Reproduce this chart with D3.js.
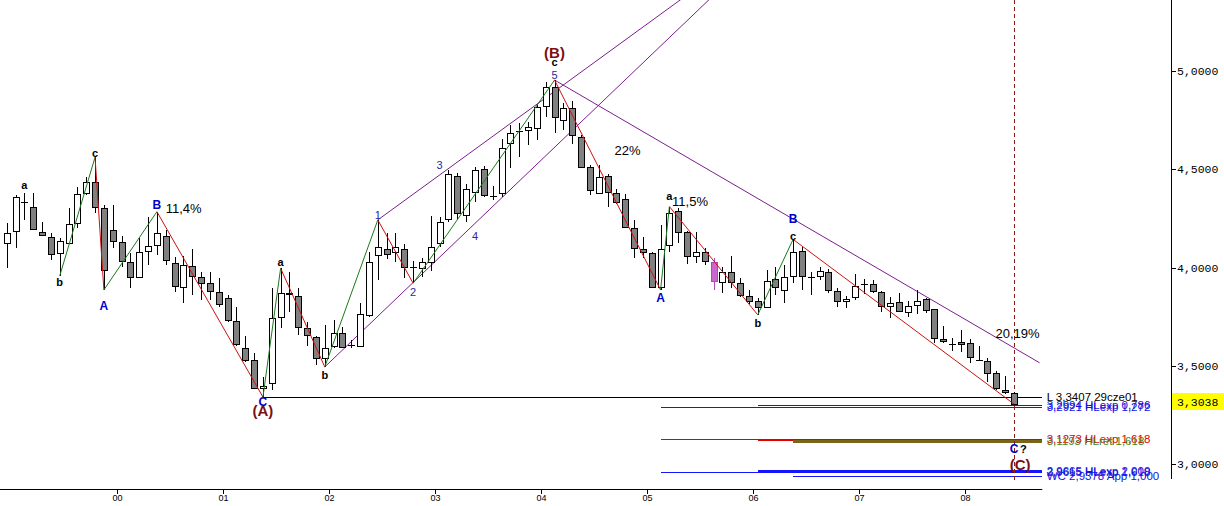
<!DOCTYPE html>
<html><head><meta charset="utf-8">
<script src="https://cdn.jsdelivr.net/npm/d3@7"></script>
<style>body{margin:0;background:#fff}svg{display:block;background:#fff}</style>
</head><body><svg id="chart" width="1224" height="506"></svg>
<script>
// ---- DATA (monthly candles, Dec 1998 .. Jun 2008) ----
const firstMonth = new Date(1998, 11, 1);
const open  = [4.127,4.186,4.336,4.307,4.180,4.157,4.073,4.124,4.225,4.378,4.434,4.302,4.191,4.129,4.030,3.954,4.084,4.113,4.161,4.022,3.901,4.007,3.954,3.920,3.873,3.844,3.730,3.590,3.530,3.386,3.412,3.747,3.872,3.857,3.691,3.645,3.539,3.603,3.666,3.607,3.603,3.759,4.063,4.096,4.078,4.096,4.001,3.996,4.030,4.124,4.247,4.467,4.268,4.386,4.500,4.367,4.378,4.632,4.696,4.700,4.709,4.822,4.917,4.751,4.810,4.666,4.513,4.381,4.466,4.378,4.347,4.200,4.093,4.073,3.903,4.115,4.289,4.183,4.059,4.078,4.030,3.927,3.976,3.920,3.857,3.829,3.798,3.940,3.885,3.956,4.084,3.955,3.959,3.976,3.881,3.830,3.849,3.917,3.917,3.874,3.805,3.824,3.773,3.808,3.839,3.788,3.637,3.612,3.620,3.615,3.531,3.523,3.462,3.377,3.361];
const high  = [4.228,4.369,4.378,4.381,4.232,4.174,4.149,4.302,4.408,4.459,4.561,4.318,4.318,4.161,4.076,4.149,4.259,4.284,4.191,4.055,4.059,4.093,3.979,3.979,3.946,3.861,3.801,3.649,3.564,3.442,3.895,3.996,3.979,3.895,3.725,3.652,3.708,3.733,3.699,3.632,3.818,4.081,4.242,4.174,4.174,4.120,4.034,4.047,4.262,4.259,4.496,4.483,4.425,4.513,4.517,4.417,4.653,4.725,4.734,4.742,4.827,4.946,4.954,4.836,4.847,4.675,4.522,4.522,4.475,4.398,4.374,4.242,4.154,4.081,4.217,4.310,4.302,4.185,4.183,4.098,4.047,4.002,4.059,3.946,3.886,3.844,3.988,4.005,4.013,4.143,4.106,3.978,4.005,3.991,3.895,3.857,3.967,3.942,3.937,3.879,3.852,3.869,3.832,3.883,3.844,3.790,3.703,3.640,3.683,3.635,3.601,3.539,3.471,3.449,3.364];
const low   = [3.996,4.098,4.242,4.191,4.161,4.039,3.957,4.120,4.200,4.369,4.279,3.886,4.098,4.005,3.895,3.946,4.013,4.064,4.013,3.877,3.818,3.861,3.835,3.835,3.801,3.725,3.598,3.521,3.381,3.3407,3.377,3.694,3.776,3.657,3.598,3.505,3.494,3.590,3.590,3.590,3.598,3.750,3.937,4.042,4.030,3.949,3.920,3.954,3.984,4.106,4.233,4.242,4.233,4.335,4.361,4.344,4.361,4.505,4.561,4.624,4.649,4.768,4.683,4.700,4.629,4.505,4.369,4.378,4.310,4.324,4.200,4.047,4.047,3.900,3.886,4.081,4.124,4.018,4.022,4.013,3.883,3.872,3.895,3.849,3.815,3.759,3.793,3.861,3.818,3.920,3.886,3.861,3.937,3.869,3.801,3.793,3.835,3.866,3.872,3.771,3.745,3.771,3.747,3.764,3.768,3.615,3.618,3.577,3.572,3.516,3.529,3.415,3.377,3.357,3.300];
const close = [4.178,4.358,4.334,4.198,4.164,4.069,4.134,4.220,4.373,4.434,4.307,3.988,4.135,4.034,3.954,4.078,4.108,4.174,4.039,3.906,4.012,3.957,3.920,3.879,3.813,3.733,3.611,3.530,3.386,3.399,3.742,3.872,3.864,3.696,3.654,3.539,3.590,3.666,3.595,3.605,3.762,4.027,4.106,4.068,4.106,4.005,3.999,4.027,4.106,4.230,4.475,4.276,4.398,4.496,4.369,4.365,4.607,4.686,4.694,4.714,4.818,4.917,4.765,4.813,4.675,4.513,4.395,4.459,4.386,4.335,4.208,4.098,4.078,3.903,4.093,4.276,4.183,4.059,4.081,4.034,3.933,3.978,3.925,3.861,3.832,3.798,3.930,3.900,3.950,4.077,3.957,3.953,3.980,3.884,3.830,3.839,3.908,3.915,3.881,3.805,3.818,3.781,3.805,3.830,3.783,3.640,3.627,3.611,3.610,3.544,3.530,3.465,3.386,3.366,3.3038];
const highlighted = [80];               // candle shown in magenta
const yTicks = [3, 3.5, 4, 4.5, 5];

// wave zig-zag pivots: [candle index, price]
const zigzag = [[6,3.957],[10,4.561],[11,3.886],[17,4.284],[29,3.3407],[31,3.996],[36,3.494],[42,4.242],[46,3.920],[62,4.954],[74,3.886],[75,4.310],[85,3.759],[89,4.143],[114,3.305]];
// purple trend / channel lines
const channelUpper = [[42,4.242],[77,5.387]];
const channelLower = [[36,3.494],[80,5.385]];
const trendDown    = [[62,4.954],[116.9,3.515]];

// horizontal target levels
const levelPrice = [3.3407, 3.2994, 3.2921, 3.1273, 3.1233, 3.1193, 2.9665, 2.9615, 2.9378];
const levelFrom  = [29, 85, 74, 74, 85, 89, 85, 74, 89];
const levelText  = ["L 3,3407 29cze01","3,2994 HLexp 0,786","3,2921 HLexp 1,272","3,1273 HLexp 1,618","","3,1193 HLret 1,618","2,9665 HLexp 2,000","2,9615 HLexp 1,618","WC 2,9378 App 1,000"];
const levelKind  = ["black","blue","blue","red","red","olive","blueThick","blue","blue"];

// wave labels
const waveText  = ["a","b","c","A","B","C","(A)","a","b","1","2","3","4","5","c","(B)","a","A","b","B","c","C","?","(C)"];
const waveIdx   = [2,6,10,11,17,29,29,31,36,42,46,49,53,62,62,62,75,74,85,89,89,114,115.05,114.7];
const wavePrice = [4.420,3.927,4.583,3.805,4.318,3.316,3.271,4.029,3.454,4.268,3.876,4.522,4.161,4.980,5.046,5.092,4.364,3.846,3.718,4.247,4.161,3.077,3.077,2.996];
const waveKind  = ["s","s","s","U","U","U","P","s","s","n","n","n","n","n","s","P","s","U","s","U","s","U","s","P"];

// percentage notes
const pctText  = ["11,4%","22%","11,5%","20,19%"];
const pctIdx   = [18.0, 68.8, 75.3, 111.9];
const pctPrice = [4.303, 4.598, 4.334, 3.662];

// ---- DRAWING ----
const svg = d3.select("#chart");
const months = d3.timeMonth.range(firstMonth, d3.timeMonth.offset(firstMonth, close.length));
const x = d3.scaleLinear().domain([0, close.length - 1]).range([6.7, 1014]);
const y = d3.scaleLinear().domain([3, 5]).range([464, 71]);
const FONT = "'Liberation Sans', Arial, sans-serif";
const MONO = "'Liberation Mono','DejaVu Sans Mono',monospace";
const lineEnd = 117.2, labelStart = 117.7;
const crisp = v => Math.round(v) + 0.5;

// axes
const axisX = 1171;
svg.append("line").attr("x1", axisX + 0.5).attr("x2", axisX + 0.5).attr("y1", 0).attr("y2", 479).attr("stroke", "#000");
const fmt = v => d3.format(".4f")(v).replace(".", ",");
yTicks.forEach(v => {
  svg.append("line").attr("x1", axisX).attr("x2", axisX + 5).attr("y1", crisp(y(v))).attr("y2", crisp(y(v))).attr("stroke", "#000");
  svg.append("text").attr("x", axisX + 6).attr("y", y(v)).attr("dy", "0.35em")
    .attr("font-family", MONO).attr("font-size", 11.5).text(fmt(v));
});
// last price box
const last = close[close.length - 1];
svg.append("rect").attr("x", axisX + 1).attr("y", Math.round(y(last)) - 11).attr("width", 52).attr("height", 17).attr("fill", "#ffff00");
svg.append("text").attr("x", axisX + 6).attr("y", y(last) - 2.5).attr("dy", "0.35em")
  .attr("font-family", MONO).attr("font-size", 11.5).text(fmt(last));

// x axis
const axisY = 489;
svg.append("line").attr("x1", 0).attr("x2", x(lineEnd)).attr("y1", axisY + 0.5).attr("y2", axisY + 0.5).attr("stroke", "#000");
months.forEach((m, i) => {
  if (m.getMonth() !== 0) return;
  const tx = crisp(x(i - 0.5));
  if (tx < 30) return;
  svg.append("line").attr("x1", tx).attr("x2", tx).attr("y1", axisY).attr("y2", axisY + 5).attr("stroke", "#000");
  svg.append("text").attr("x", tx).attr("y", axisY + 9).attr("dy", "0.35em").attr("text-anchor", "middle")
    .attr("font-family", FONT).attr("font-size", 9).text(d3.timeFormat("%y")(m));
});

// horizontal levels
const kindStyle = {
  black: {c: "#000", w: 1, t: "#000"},
  blue: {c: "#1414ff", w: 1, t: "#1414e0"},
  blueThick: {c: "#1414ff", w: 2, t: "#1414e0"},
  red: {c: "#e60000", w: 1, t: "#e00000"},
  olive: {c: "#7a6418", w: 3, t: "#3f8a1e"}
};
levelPrice.forEach((p, k) => {
  const s = kindStyle[levelKind[k]];
  const yy = s.w % 2 ? crisp(y(p)) : Math.round(y(p));
  svg.append("line").attr("x1", Math.round(x(levelFrom[k]))).attr("x2", Math.round(x(lineEnd)))
    .attr("y1", yy).attr("y2", yy).attr("stroke", s.c).attr("stroke-width", s.w).attr("shape-rendering", "crispEdges");
});
levelPrice.forEach((p, k) => {
  const s = kindStyle[levelKind[k]];
  if (!levelText[k]) return;
  svg.append("text").attr("x", x(labelStart)).attr("y", y(p)).attr("dy", "0.35em")
    .attr("font-family", FONT).attr("font-size", 11.5).attr("fill", s.t).text(levelText[k]);
});

// vertical dashed line at last candle
svg.append("line").attr("x1", crisp(x(close.length - 1))).attr("x2", crisp(x(close.length - 1)))
  .attr("y1", 0).attr("y2", 480).attr("stroke", "#8b1a1a").attr("stroke-dasharray", "4,3");

// purple lines
const lineGen = d3.line().x(d => x(d[0])).y(d => y(d[1]));
[channelUpper, channelLower, trendDown].forEach(seg => {
  svg.append("path").attr("d", lineGen(seg)).attr("fill", "none").attr("stroke", "#7b1f8c").attr("stroke-width", 1);
});

// candles
const cg = svg.append("g").attr("shape-rendering", "crispEdges");
close.forEach((c, i) => {
  const o = open[i], hi = high[i], lo = low[i];
  const cx = Math.round(x(i));
  const hl = highlighted.includes(i);
  const stroke = hl ? "#b04cb0" : "#000";
  cg.append("line").attr("x1", cx + 0.5).attr("x2", cx + 0.5).attr("y1", y(hi)).attr("y2", y(lo)).attr("stroke", stroke);
  const top = y(Math.max(o, c)), bot = y(Math.min(o, c));
  if (bot - top < 1.5) {
    cg.append("line").attr("x1", cx - 3).attr("x2", cx + 4).attr("y1", crisp((top + bot) / 2)).attr("y2", crisp((top + bot) / 2))
      .attr("stroke", "#000").attr("stroke-width", 1);
  } else {
    const fill = hl ? "#cc66cc" : (c < o ? "#808080" : "#ffffff");
    cg.append("rect").attr("x", cx - 2.5).attr("y", Math.round(top) + 0.5).attr("width", 6).attr("height", Math.round(bot) - Math.round(top))
      .attr("fill", fill).attr("stroke", stroke);
  }
});

// wave zig-zag
for (let k = 0; k < zigzag.length - 1; k++) {
  const a = zigzag[k], b = zigzag[k + 1];
  svg.append("line").attr("x1", x(a[0])).attr("y1", y(a[1])).attr("x2", x(b[0])).attr("y2", y(b[1]))
    .attr("stroke", b[1] > a[1] ? "#1a7a1a" : "#cc1111").attr("stroke-width", 1);
}

// wave labels
const waveStyle = {
  s: {f: "#000", w: "bold", s: 11},
  U: {f: "#0000cc", w: "bold", s: 12},
  n: {f: "#2a2a9a", w: "normal", s: 11},
  P: {f: "#7a1010", w: "bold", s: 15}
};
waveText.forEach((t, k) => {
  const st = waveStyle[waveKind[k]];
  svg.append("text").attr("x", x(waveIdx[k])).attr("y", y(wavePrice[k])).attr("dy", "0.35em").attr("text-anchor", "middle")
    .attr("font-family", FONT).attr("font-weight", st.w).attr("font-size", st.s).attr("fill", st.f).text(t);
});
pctText.forEach((t, k) => {
  svg.append("text").attr("x", x(pctIdx[k])).attr("y", y(pctPrice[k])).attr("dy", "0.35em")
    .attr("font-family", FONT).attr("font-size", 13).attr("fill", "#000").text(t);
});
</script>
</body></html>
